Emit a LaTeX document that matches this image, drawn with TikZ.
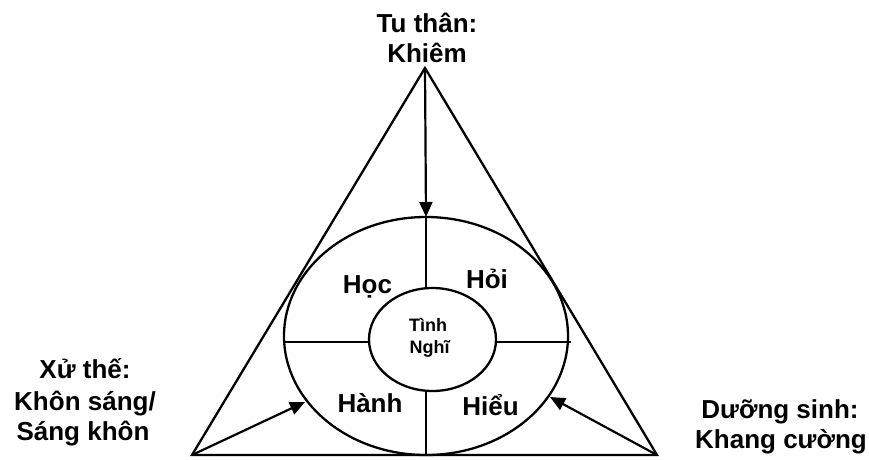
\documentclass[tikz,border=0pt]{standalone}
\usepackage{fontspec}
\setmainfont{Liberation Sans}
\usetikzlibrary{shapes.geometric,arrows.meta}
\begin{document}
\begin{tikzpicture}[x=1pt,y=-1pt,
  lbl/.style={font=\fontsize{26}{31}\selectfont\bfseries, inner sep=0pt, anchor=base},
  small/.style={font=\fontsize{18}{22}\selectfont\bfseries, inner sep=0pt, anchor=base},
  thick line/.style={line width=2.3pt},
  div/.style={line width=1.7pt},
  arr/.style={line width=2.2pt,-{Triangle[length=15pt,width=13pt]}},
  ell/.style={ellipse, draw, line width=2.3pt, inner sep=0pt, outer sep=0pt}]
\useasboundingbox (0,0) rectangle (869,459);
% triangle
\coordinate (A) at (425,68);
\coordinate (BL) at (192,455);
\coordinate (BR) at (657,455);
\draw[thick line, line join=miter] (A) -- (BL) -- (BR) -- cycle;
% ellipses
\node[ell, minimum width=284pt, minimum height=238pt] (outer) at (426,336) {};
\node[ell, minimum width=127pt, minimum height=103pt] (inner) at (432.5,339.5) {};
% division lines
\coordinate (it) at (426,288.5);
\coordinate (ib) at (426,390.5);
\coordinate (ob) at (426,455);
\coordinate (ol) at (284,342);
\coordinate (il) at (369,342);
\coordinate (ir) at (496,342);
\coordinate (or) at (571,342);
\draw[div] (outer.north) -- (it);
\draw[div] (ib) -- (ob);
\draw[div] (ol) -- (il);
\draw[div] (ir) -- (or);
% arrows
\coordinate (tl) at (305,402);
\coordinate (tr) at (550,397);
\draw[arr] (A) -- (outer.north);
\draw[arr] (BL) -- (tl);
\draw[arr] (BR) -- (tr);
% labels
\node[lbl] (t1) at (427,32) {Tu thân:};
\node[lbl] (t2) at (427,62) {Khiêm};
\node[lbl] (l1) at (85,378) {Xử thế:};
\node[lbl] (l2) at (85,410) {Khôn sáng/};
\node[lbl] (l3) at (83,440) {Sáng khôn};
\node[lbl] (r1) at (780,418) {Dưỡng sinh:};
\node[lbl] (r2) at (781,448) {Khang cường};
\node[lbl] (hoc) at (367.5,293) {Học};
\node[lbl] (hoi) at (487,288) {Hỏi};
\node[lbl] (hanh) at (370,412) {Hành};
\node[lbl] (hieu) at (490.5,415) {Hiểu};
\node[small] (c1) at (428,331) {Tình};
\node[small] (c2) at (429.5,353) {Nghĩ};
\end{tikzpicture}
\end{document}
